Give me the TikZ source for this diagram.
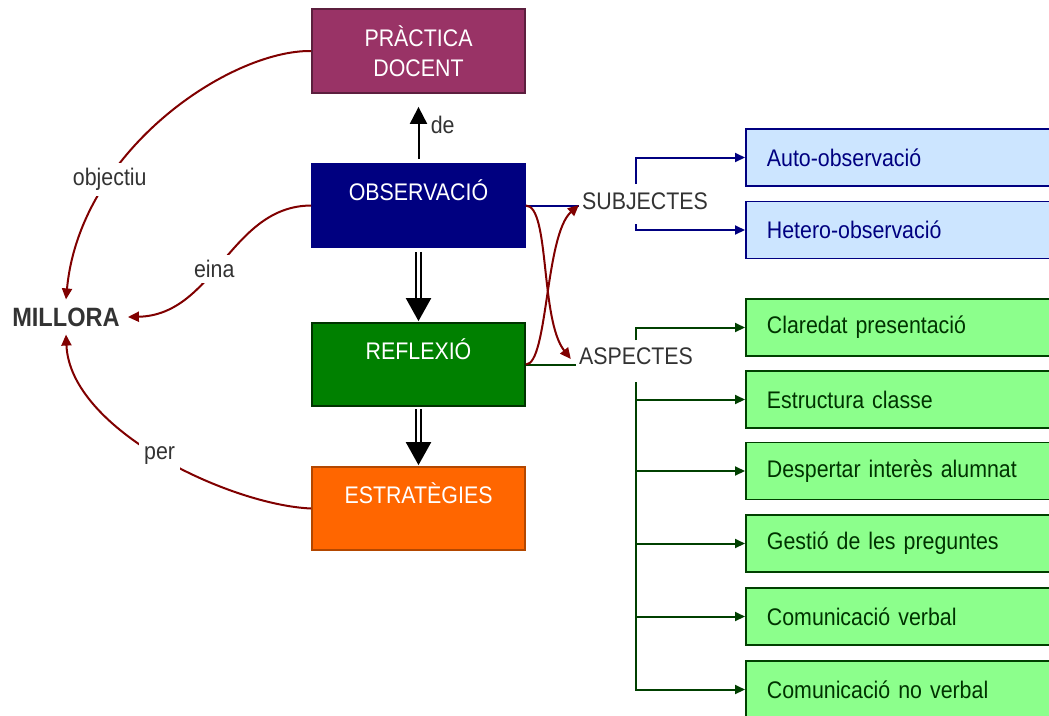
\documentclass[tikz,border=0pt]{standalone}
\usepackage{fontspec}
\setmainfont{Liberation Sans}[FakeStretch=0.89]
\usetikzlibrary{arrows.meta,calc}
\definecolor{cprac}{HTML}{993366}
\definecolor{cpracb}{HTML}{5C1F3E}
\definecolor{cobs}{HTML}{000080}
\definecolor{crefl}{HTML}{008000}
\definecolor{creflb}{HTML}{003300}
\definecolor{cestr}{HTML}{FF6600}
\definecolor{cestrb}{HTML}{B34700}
\definecolor{cblue}{HTML}{CCE5FF}
\definecolor{cgreen}{HTML}{8CFF8C}
\definecolor{cgreenb}{HTML}{004000}
\definecolor{cred}{HTML}{800000}
\definecolor{cgray}{HTML}{333333}
\begin{document}
\begin{tikzpicture}[x=1pt,y=-1pt,
  font=\fontsize{24}{30}\selectfont,
  mainbox/.style={draw, line width=1.8pt, minimum width=213pt, inner sep=0pt, text=white},
  flowbox/.style={mainbox, text height=36pt, text depth=47pt},
  rbox/.style={draw, line width=1.8pt, minimum height=57pt, text width=270pt,
    inner xsep=21pt, inner ysep=0pt, align=left},
  bluebox/.style={rbox, fill=cblue, draw=cobs, text=cobs},
  greenbox/.style={rbox, fill=cgreen, draw=cgreenb, text=creflb},
  word/.style={text=cgray, inner ysep=0pt, inner xsep=3pt},
  lbl/.style={fill=white, text=cgray, inner sep=5pt},
  redarrow/.style={draw=cred, line width=2pt, -{Triangle[length=11pt,width=10pt]}},
  bluearrow/.style={draw=cobs, line width=2pt, -{Triangle[length=10pt,width=9pt]}},
  greenarrow/.style={draw=cgreenb, line width=2pt, -{Triangle[length=10pt,width=9pt]}},
  dblarrow/.style={draw=black, double=white, line width=2.2pt, double distance=2.5pt,
    -{Triangle[length=23pt,width=25pt]}},
]
\useasboundingbox (0,0) rectangle (1049,715);
\clip (0,0) rectangle (1049,715);

% main column
\node[mainbox, fill=cprac, draw=cpracb, minimum height=84pt, align=center] (prac) at (418.5,51) {PRÀCTICA\\DOCENT};
\node[flowbox, fill=cobs, draw=cobs] (obs) at (418.5,205.5) {OBSERVACIÓ};
\node[flowbox, fill=crefl, draw=creflb] (refl) at (418.5,364.5) {REFLEXIÓ};
\node[flowbox, fill=cestr, draw=cestrb] (estr) at (418.5,508.5) {ESTRATÈGIES};

\node[text=cgray, font=\fontsize{26.5}{30}\selectfont\bfseries, inner sep=8pt] (millora) at (66,317) {MILLORA};

% arrows in column
\draw[line width=2pt, -{Triangle[length=17pt,width=17pt]}, shorten <=4pt, shorten >=13pt] (obs.north) -- (prac.south)
  node[text=cgray, anchor=west, pos=0.55, xshift=8pt] (lde) {de};
\draw[dblarrow, shorten <=4pt, shorten >=1pt] (obs.south) -- (refl.north);
\draw[dblarrow, shorten <=2pt, shorten >=1pt] (refl.south) -- (estr.north);

% curves to MILLORA
\draw[redarrow] (prac.west) .. controls (230,50) and (80,150) .. (millora.north)
  node[lbl, pos=0.7] (lobj) {objectiu};
\draw[redarrow] (obs.west) .. controls (230,206) and (215,315) .. (millora.east)
  node[lbl, pos=0.55] (leina) {eina};
\draw[redarrow] (estr.west) .. controls (230,505) and (70,430) .. (millora.south)
  node[lbl, pos=0.5] (lper) {per};

% SUBJECTES / ASPECTES
\node[word] (subj) at (645,201) {SUBJECTES};
\node[word] (asp) at (636,356) {ASPECTES};

\draw[draw=cobs, line width=2pt] (obs.east) -- (obs.east -| subj.west);
\draw[draw=cgreenb, line width=2pt] (refl.east) -- (refl.east -| asp.west);

\draw[redarrow] (obs.east) .. controls (550,206) and (540,320) .. ($(asp.west)+(-5,3)$);
\draw[redarrow] (refl.east) .. controls (548,364) and (545,235) .. ($(subj.west)+(0,4)$);

% right boxes
\node[bluebox, anchor=west] (auto) at (745,157.5) {Auto-observació};
\node[bluebox, anchor=west] (het) at (745,230) {Hetero-observació};

\node[greenbox, anchor=west] (c1) at (745,327.5) {Claredat presentació};
\node[greenbox, anchor=west] (c2) at (745,399.5) {Estructura classe};
\node[greenbox, anchor=west] (c3) at (745,471) {Despertar interès alumnat};
\node[greenbox, anchor=west] (c4) at (745,543.5) {Gestió de les preguntes};
\node[greenbox, anchor=west] (c5) at (745,616.5) {Comunicació verbal};
\node[greenbox, anchor=west] (c6) at (745,689.5) {Comunicació no verbal};

% branch connectors
\coordinate (s1) at (636,184);
\coordinate (s2) at (636,224);
\draw[bluearrow] (s1) |- (auto.west);
\draw[bluearrow] (s2) |- (het.west);

\coordinate (a1) at (636,340);
\coordinate (a2) at (636,382);
\draw[greenarrow] (a1) |- (c1.west);
\draw[greenarrow] (a2) |- (c6.west);
\draw[greenarrow] (a2 |- c2.west) -- (c2.west);
\draw[greenarrow] (a2 |- c3.west) -- (c3.west);
\draw[greenarrow] (a2 |- c4.west) -- (c4.west);
\draw[greenarrow] (a2 |- c5.west) -- (c5.west);
\end{tikzpicture}
\end{document}
